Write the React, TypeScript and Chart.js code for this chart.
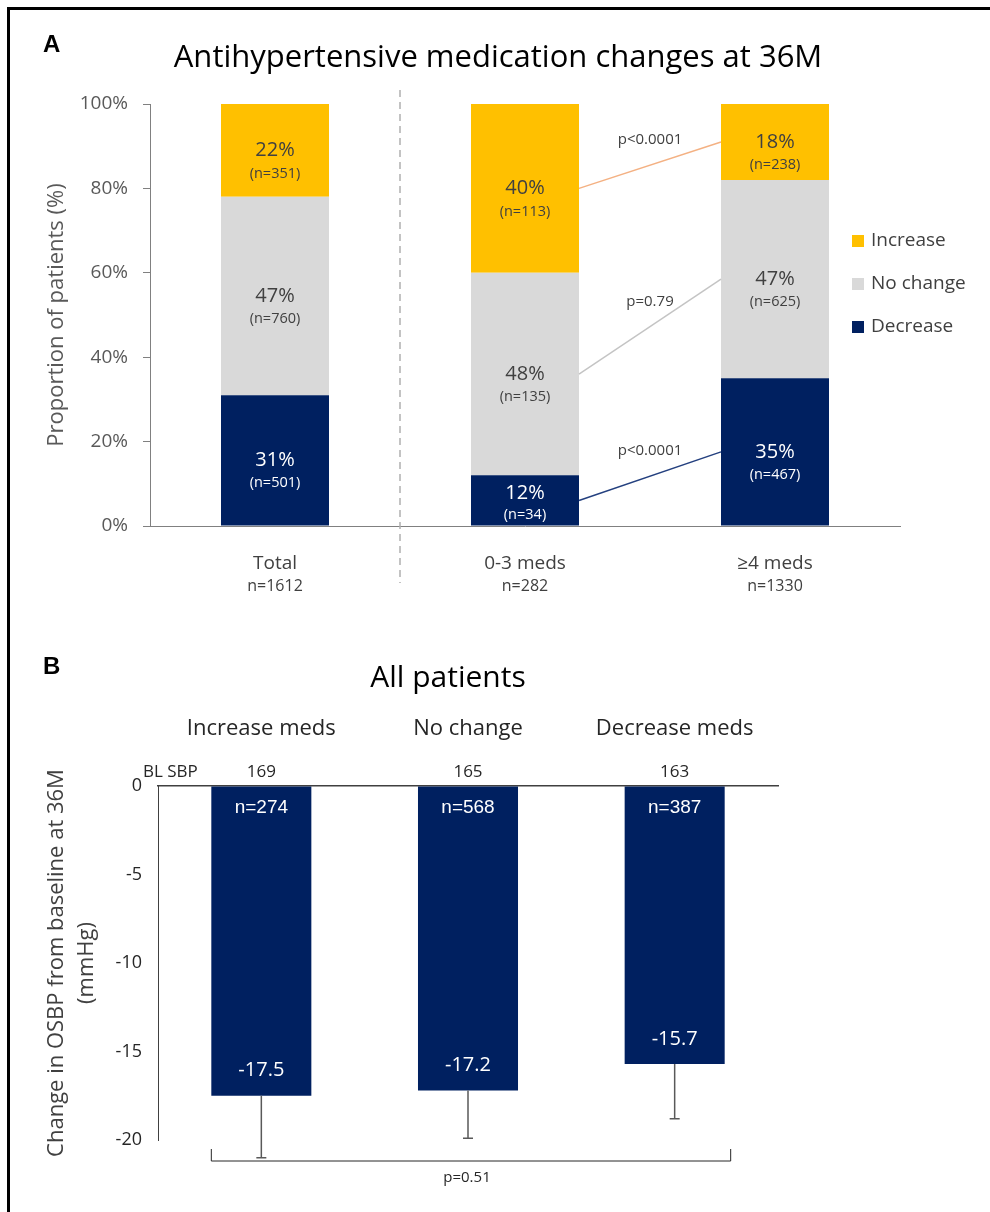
import React, { useEffect, useRef } from "react";
import { Chart, registerables } from "chart.js";
Chart.register(...registerables);

// ---------- Panel A data ----------
const titleA = "Antihypertensive medication changes at 36M";
const groupsA = ["Total", "0-3 meds", "≥4 meds"];
const groupNs = ["n=1612", "n=282", "n=1330"];
const seriesNames = ["Decrease", "No change", "Increase"];
const decreasePct = [31, 12, 35];
const noChangePct = [47, 48, 47];
const increasePct = [22, 40, 18];
const decreaseN = [501, 34, 467];
const noChangeN = [760, 135, 625];
const increaseN = [351, 113, 238];
const pctTicks = [0, 20, 40, 60, 80, 100];
const pValuesA = ["p<0.0001", "p=0.79", "p<0.0001"]; // decrease, no change, increase

// ---------- Panel B data ----------
const titleB = "All patients";
const groupsB = ["Increase meds", "No change", "Decrease meds"];
const changeSBP = [-17.5, -17.2, -15.7];
const errSBP = [3.5, 2.7, 3.1];
const nB = [274, 568, 387];
const baselineSBP = [169, 165, 163];
const sbpTicks = [0, -5, -10, -15, -20];
const pB = "p=0.51";

const FONT = "'Open Sans', sans-serif";
const NAVY = "#002060";
const GREY = "#D9D9D9";
const YELLOW = "#FFC000";
const seriesColors = [NAVY, GREY, YELLOW];
const connectorColors = ["#24407f", "#c4c4c4", "#f4b183"];

function PanelA() {
  const ref = useRef<HTMLCanvasElement>(null);
  useEffect(() => {
    const pcts = [decreasePct, noChangePct, increasePct];
    const ns = [decreaseN, noChangeN, increaseN];
    const plugin = {
      id: "panelA",
      afterDraw(chart: any) {
        const ctx = chart.ctx;
        const xs = chart.scales.x;
        const area = chart.chartArea;
        ctx.save();
        // headers
        ctx.fillStyle = "#000";
        ctx.textBaseline = "middle";
        ctx.textAlign = "left";
        ctx.font = "bold 24px 'Liberation Sans', Arial, sans-serif";
        ctx.fillText("A", 43, 45);
        ctx.textAlign = "center";
        ctx.font = `31px ${FONT}`;
        ctx.fillText(titleA, 498, 58);
        // divider
        const xd = (xs.getPixelForValue(0) + xs.getPixelForValue(1)) / 2;
        ctx.strokeStyle = "#b0b0b0";
        ctx.lineWidth = 1.5;
        ctx.setLineDash([7, 5]);
        ctx.beginPath();
        ctx.moveTo(xd, area.top - 14);
        ctx.lineTo(xd, area.bottom + 57);
        ctx.stroke();
        ctx.setLineDash([]);
        // n labels under categories
        ctx.fillStyle = "#404040";
        ctx.font = `16px ${FONT}`;
        groupNs.forEach((t, i) => ctx.fillText(t, xs.getPixelForValue(i), area.bottom + 60));
        // connectors between 0-3 and >=4
        chart.data.datasets.forEach((ds: any, di: number) => {
          const meta = chart.getDatasetMeta(di);
          const b1 = meta.data[1];
          const b2 = meta.data[2];
          const x1 = b1.x + b1.width / 2;
          const y1 = (b1.y + b1.base) / 2;
          const x2 = b2.x - b2.width / 2;
          const y2 = (b2.y + b2.base) / 2;
          ctx.strokeStyle = connectorColors[di];
          ctx.lineWidth = 1.5;
          ctx.beginPath();
          ctx.moveTo(x1, y1);
          ctx.lineTo(x2, y2);
          ctx.stroke();
          ctx.fillStyle = "#404040";
          ctx.font = `15px ${FONT}`;
          ctx.fillText(pValuesA[di], (x1 + x2) / 2, (y1 + y2) / 2 - 25);
        });
        // segment labels
        chart.data.datasets.forEach((ds: any, di: number) => {
          const meta = chart.getDatasetMeta(di);
          meta.data.forEach((bar: any, i: number) => {
            const h = bar.base - bar.y;
            let cy = (bar.y + bar.base) / 2;
            let ny = cy + 23;
            if (h < 60) {
              cy -= 7;
              ny = cy + 21;
            }
            ctx.fillStyle = di === 0 ? "#ffffff" : "#404040";
            ctx.font = `20px ${FONT}`;
            ctx.fillText(`${pcts[di][i]}%`, bar.x, cy);
            ctx.font = `14.5px ${FONT}`;
            ctx.fillText(`(n=${ns[di][i]})`, bar.x, ny);
          });
        });
        // legend
        const order = [2, 1, 0];
        order.forEach((di, k) => {
          const ly = area.top + 137 + k * 43;
          const lx = area.right - 48;
          ctx.fillStyle = seriesColors[di];
          ctx.fillRect(lx, ly - 6, 12, 12);
          ctx.fillStyle = "#404040";
          ctx.textAlign = "left";
          ctx.font = `19px ${FONT}`;
          ctx.fillText(seriesNames[di], lx + 19, ly);
          ctx.textAlign = "center";
        });
        ctx.restore();
      },
    };
    const chart = new Chart(ref.current!, {
      type: "bar",
      data: {
        labels: groupsA,
        datasets: [
          { label: seriesNames[0], data: decreasePct, backgroundColor: NAVY },
          { label: seriesNames[1], data: noChangePct, backgroundColor: GREY },
          { label: seriesNames[2], data: increasePct, backgroundColor: YELLOW },
        ],
      },
      options: {
        responsive: false,
        animation: false,
        events: [],
        layout: { padding: { left: 0, top: 104, right: 90, bottom: 0 } },
        datasets: { bar: { barPercentage: 0.432, categoryPercentage: 1 } },
        plugins: { legend: { display: false }, tooltip: { enabled: false } },
        scales: {
          x: {
            stacked: true,
            grid: { display: false },
            border: { display: true, color: "#808080", width: 1 },
            ticks: { font: { family: FONT, size: 19 }, color: "#404040", padding: 18 },
            afterFit: (s: any) => {
              s.height = 94;
            },
          },
          y: {
            stacked: true,
            min: 0,
            max: 100,
            afterBuildTicks: (s: any) => {
              s.ticks = pctTicks.map((v) => ({ value: v }));
            },
            grid: { display: true, drawOnChartArea: false, drawTicks: true, tickLength: 7, color: "#808080" },
            border: { display: true, color: "#808080", width: 1 },
            ticks: {
              font: { family: FONT, size: 19 },
              color: "#595959",
              padding: 15,
              callback: (v: any) => `${v}%`,
            },
            title: {
              display: true,
              text: "Proportion of patients (%)",
              font: { family: FONT, size: 22 },
              color: "#595959",
              padding: { top: 44, bottom: 0 },
            },
            afterFit: (s: any) => {
              s.width = 150;
            },
          },
        },
      } as any,
      plugins: [plugin],
    });
    return () => chart.destroy();
  }, []);
  return <canvas ref={ref} width={990} height={620} style={{ position: "absolute", left: 0, top: 0 }} />;
}

function PanelB() {
  const ref = useRef<HTMLCanvasElement>(null);
  useEffect(() => {
    const plugin = {
      id: "panelB",
      afterDraw(chart: any) {
        const ctx = chart.ctx;
        const ys = chart.scales.y;
        const area = chart.chartArea;
        const meta = chart.getDatasetMeta(0);
        ctx.save();
        ctx.textBaseline = "middle";
        ctx.fillStyle = "#000";
        ctx.textAlign = "left";
        ctx.font = "bold 24px 'Liberation Sans', Arial, sans-serif";
        ctx.fillText("B", 43, 47);
        ctx.textAlign = "center";
        ctx.font = `30px ${FONT}`;
        ctx.fillText(titleB, 448, 58);
        // BL SBP row
        ctx.fillStyle = "#262626";
        ctx.font = `17px ${FONT}`;
        ctx.textAlign = "left";
        ctx.fillText("BL SBP", area.left - 15, area.top - 14);
        ctx.textAlign = "center";
        meta.data.forEach((bar: any, i: number) => {
          ctx.fillText(String(baselineSBP[i]), bar.x, area.top - 14);
        });
        // error bars
        ctx.strokeStyle = "#595959";
        ctx.lineWidth = 1.5;
        meta.data.forEach((bar: any, i: number) => {
          const y1 = ys.getPixelForValue(changeSBP[i]);
          const y2 = ys.getPixelForValue(changeSBP[i] - errSBP[i]);
          ctx.beginPath();
          ctx.moveTo(bar.x, y1);
          ctx.lineTo(bar.x, y2);
          ctx.moveTo(bar.x - 5, y2);
          ctx.lineTo(bar.x + 5, y2);
          ctx.stroke();
        });
        // bar labels
        ctx.fillStyle = "#ffffff";
        meta.data.forEach((bar: any, i: number) => {
          ctx.font = "19px 'Liberation Sans', Arial, sans-serif";
          ctx.fillText(`n=${nB[i]}`, bar.x, bar.base + 21);
          ctx.font = `20px ${FONT}`;
          ctx.fillText(changeSBP[i].toFixed(1), bar.x, bar.y - 25);
        });
        // bracket
        const b0 = meta.data[0];
        const b2 = meta.data[meta.data.length - 1];
        const xl = b0.x - b0.width / 2;
        const xr = b2.x + b2.width / 2 + 6;
        ctx.strokeStyle = "#262626";
        ctx.lineWidth = 1;
        ctx.beginPath();
        ctx.moveTo(xl, area.bottom + 9);
        ctx.lineTo(xl, area.bottom + 21);
        ctx.lineTo(xr, area.bottom + 21);
        ctx.lineTo(xr, area.bottom + 9);
        ctx.stroke();
        ctx.fillStyle = "#262626";
        ctx.font = `15px ${FONT}`;
        ctx.fillText(pB, (xl + xr) / 2 - 4, area.bottom + 38);
        ctx.restore();
      },
    };
    const chart = new Chart(ref.current!, {
      type: "bar",
      data: {
        labels: groupsB,
        datasets: [{ label: "Change", data: changeSBP, backgroundColor: NAVY }],
      },
      options: {
        responsive: false,
        animation: false,
        events: [],
        layout: { padding: { left: 0, top: 0, right: 212, bottom: 72 } },
        datasets: { bar: { barPercentage: 0.484, categoryPercentage: 1 } },
        plugins: { legend: { display: false }, tooltip: { enabled: false } },
        scales: {
          x: {
            position: "top",
            grid: { display: false },
            border: { display: true, color: "#404040", width: 1.5 },
            ticks: { font: { family: FONT, size: 22 }, color: "#262626", padding: 36 },
            afterFit: (s: any) => {
              s.height = 166;
            },
          },
          y: {
            min: -20,
            max: 0,
            afterBuildTicks: (s: any) => {
              s.ticks = sbpTicks.map((v) => ({ value: v }));
            },
            grid: { display: true, drawOnChartArea: false, drawTicks: false },
            border: { display: true, color: "#404040", width: 1 },
            ticks: { font: { family: FONT, size: 18 }, color: "#262626", padding: 16 },
            title: {
              display: true,
              text: ["Change in OSBP from baseline at 36M", "(mmHg)"],
              font: { family: FONT, size: 22, lineHeight: 1.36 },
              color: "#404040",
              padding: { top: 42, bottom: 0 },
            },
            afterFit: (s: any) => {
              s.width = 158;
            },
          },
        },
      } as any,
      plugins: [plugin],
    });
    return () => chart.destroy();
  }, []);
  return <canvas ref={ref} width={990} height={592} style={{ position: "absolute", left: 0, top: 620 }} />;
}

export default function App() {
  return (
    <div style={{ position: "absolute", left: 0, top: 0, width: 990, height: 1212, background: "#fff", overflow: "hidden" }}>
      <div
        style={{
          position: "absolute",
          left: 7,
          top: 7,
          width: 990,
          height: 1212,
          borderLeft: "3px solid #000",
          borderTop: "3px solid #000",
          boxSizing: "border-box",
        }}
      />
      <PanelA />
      <PanelB />
    </div>
  );
}
